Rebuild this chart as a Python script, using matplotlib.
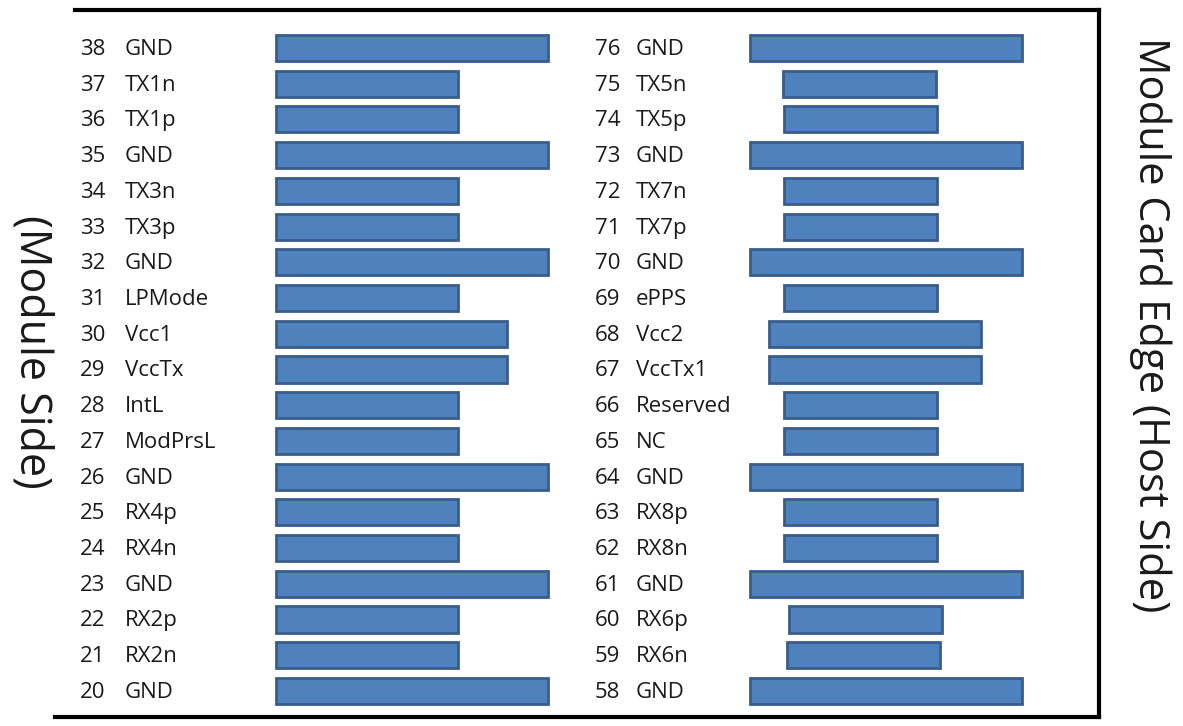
import matplotlib
matplotlib.use("Agg")
import matplotlib.pyplot as plt
from matplotlib.lines import Line2D

plt.rcParams['font.family'] = ['Open Sans', 'DejaVu Sans']

# ---- data ----
left_pins = [38, 37, 36, 35, 34, 33, 32, 31, 30, 29, 28, 27, 26, 25, 24, 23, 22, 21, 20]
left_names = ["GND", "TX1n", "TX1p", "GND", "TX3n", "TX3p", "GND", "LPMode", "Vcc1", "VccTx",
              "IntL", "ModPrsL", "GND", "RX4p", "RX4n", "GND", "RX2p", "RX2n", "GND"]
left_start = [276] * 19
left_end = [548, 458, 458, 548, 458, 458, 548, 458, 507, 507, 458, 458, 548, 458, 458, 548, 458, 458, 548]

right_pins = [76, 75, 74, 73, 72, 71, 70, 69, 68, 67, 66, 65, 64, 63, 62, 61, 60, 59, 58]
right_names = ["GND", "TX5n", "TX5p", "GND", "TX7n", "TX7p", "GND", "ePPS", "Vcc2", "VccTx1",
               "Reserved", "NC", "GND", "RX8p", "RX8n", "GND", "RX6p", "RX6n", "GND"]
right_start = [750, 783, 784, 750, 784, 784, 750, 784, 769, 769, 784, 784, 750, 784, 784, 750, 789, 787, 750]
right_end = [1022, 936, 937, 1022, 937, 937, 1022, 937, 981, 981, 937, 937, 1022, 937, 937, 1022, 942, 940, 1022]

left_title = "(Module Side)"
right_title = "Module Card Edge (Host Side)"

# ---- figure ----
W, H = 1183, 726
fig = plt.figure(figsize=(W / 100, H / 100), dpi=100)
ax = fig.add_axes([0, 0, 1, 1])
ax.set_xlim(0, W)
row_px = 35.72
top_px = 48
ax.set_ylim((H - top_px) / row_px, -top_px / row_px)
ax.axis('off')

face = '#4F81BD'
edge = '#385D8A'
rows = list(range(len(left_pins)))

ax.barh(rows, [e - s for s, e in zip(left_start, left_end)], left=left_start, height=0.73,
        color=face, edgecolor=edge, linewidth=2)
ax.barh(rows, [e - s for s, e in zip(right_start, right_end)], left=right_start, height=0.73,
        color=face, edgecolor=edge, linewidth=2)

fs = 16
tc = '#1a1a1a'
for r, p, n in zip(rows, left_pins, left_names):
    ax.text(80, r + 0.04, str(p), ha='left', va='center', fontsize=fs, color=tc)
    ax.text(125, r + 0.04, n, ha='left', va='center', fontsize=fs, color=tc)
for r, p, n in zip(rows, right_pins, right_names):
    ax.text(595, r + 0.04, str(p), ha='left', va='center', fontsize=fs, color=tc)
    ax.text(636, r + 0.04, n, ha='left', va='center', fontsize=fs, color=tc)

fig.text(32 / W, 1 - 352 / H, left_title, rotation=-90, ha='center', va='center',
         fontsize=31, color=tc)
fig.text(1150 / W, 1 - 325 / H, right_title, rotation=-90, ha='center', va='center',
         fontsize=30, color=tc)

def px_line(xs, ys):
    fig.add_artist(Line2D([x / W for x in xs], [1 - y / H for y in ys],
                          transform=fig.transFigure, color='black', linewidth=3,
                          solid_capstyle='projecting'))

px_line([75, 1099], [10, 10])
px_line([1099, 1099], [10, 717])
px_line([55, 1099], [717, 717])

fig.savefig('out.png', dpi=100, facecolor='white')
